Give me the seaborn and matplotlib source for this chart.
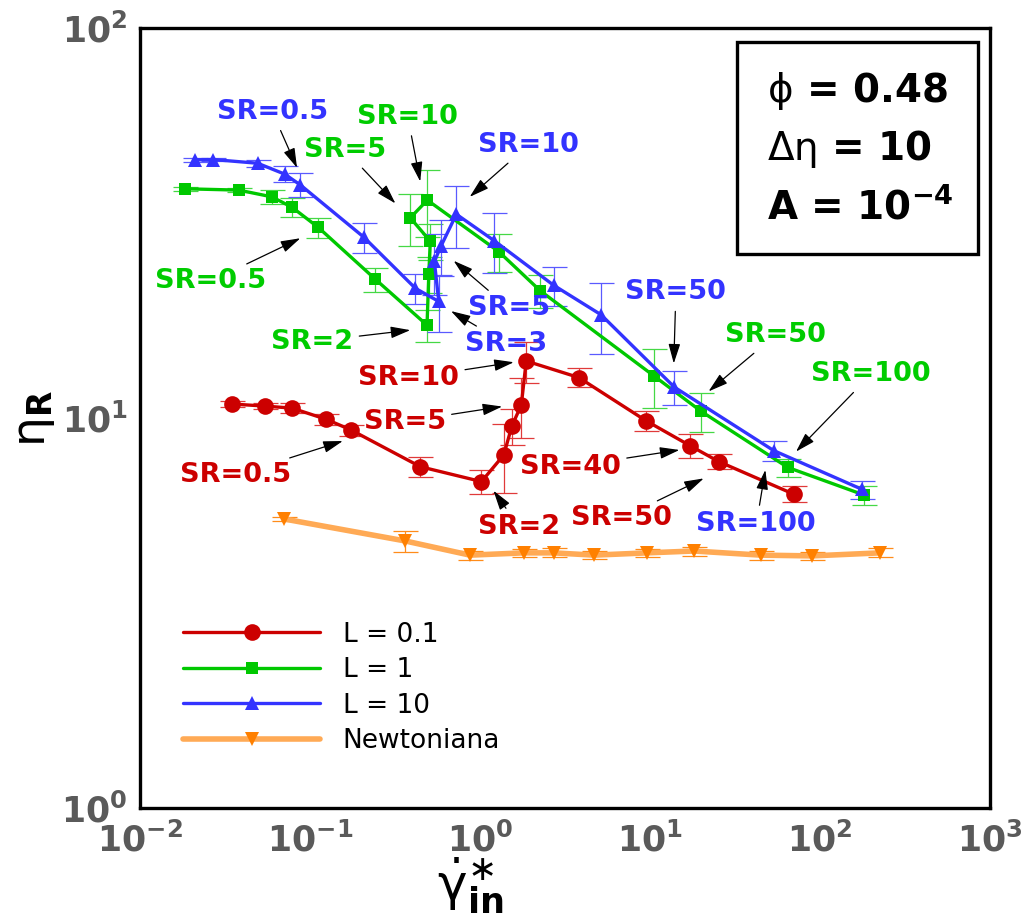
import numpy as np
import matplotlib
matplotlib.use("Agg")
import matplotlib.pyplot as plt
import seaborn as sns
from matplotlib.patches import Rectangle
from matplotlib.ticker import LogLocator, FuncFormatter, NullFormatter

# ---------------- data ----------------
red_x = [0.0348, 0.0542, 0.0784, 0.125, 0.175, 0.446, 1.02, 1.38, 1.54, 1.75, 1.87, 3.81, 9.47, 17.3, 25.4, 70.0]
red_y = [10.86, 10.73, 10.6, 9.92, 9.31, 7.50, 6.87, 8.04, 9.54, 10.8, 14.0, 12.7, 9.84, 8.48, 7.73, 6.38]
red_err = [0.2, 0.2, 0.3, 0.3, 0.3, 0.45, 0.5, 1.6, 1.0, 1.9, 1.7, 0.7, 0.6, 0.6, 0.35, 0.3]

green_x = [0.0185, 0.0381, 0.0597, 0.0784, 0.112, 0.242, 0.488, 0.50, 0.51, 0.389, 0.49, 1.29, 2.26, 10.6, 20.0, 64.6, 181.0]
green_y = [38.7, 38.4, 36.9, 34.7, 30.8, 22.7, 17.3, 23.4, 28.4, 32.6, 36.2, 26.7, 21.2, 12.8, 10.4, 7.47, 6.35]
green_err = [0.5, 0.5, 1.5, 2.0, 1.8, 1.6, 1.6, 2.5, 3.0, 5.0, 7.0, 3.0, 2.0, 2.2, 1.2, 0.4, 0.35]

blue_x = [0.0211, 0.0269, 0.0492, 0.071, 0.0877, 0.207, 0.417, 0.572, 0.539, 0.59, 0.726, 1.21, 2.71, 5.15, 13.9, 53.4, 177.0]
blue_y = [45.9, 46.0, 45.0, 42.2, 39.6, 29.1, 21.5, 19.9, 25.2, 27.6, 33.3, 28.5, 21.9, 18.4, 12.0, 8.25, 6.56]
blue_err = [0.5, 0.5, 1.0, 2.0, 2.8, 2.6, 1.9, 3.3, 4.5, 4.5, 6.0, 5.0, 2.5, 3.8, 1.2, 0.5, 0.35]

newt_x = [0.0703, 0.362, 0.873, 1.81, 2.72, 4.69, 9.6, 18.1, 45.0, 89.7, 225.0]
newt_y = [5.51, 4.84, 4.45, 4.51, 4.51, 4.45, 4.51, 4.56, 4.45, 4.43, 4.51]
newt_err = [0.08, 0.3, 0.12, 0.1, 0.12, 0.1, 0.1, 0.12, 0.12, 0.1, 0.12]

series_labels = ["L = 0.1", "L = 1", "L = 10", "Newtoniana"]

# annotations: (text, series, text position, arrow tip) in data coords
annotations = [
    ("SR=0.5", "blue", (0.060, 61.0), (0.0839, 43.8)),
    ("SR=10", "blue", (1.93, 50.1), (0.87, 36.9)),
    ("SR=5", "blue", (1.49, 19.1), (0.70, 25.3)),
    ("SR=3", "blue", (1.43, 15.5), (0.675, 18.8)),
    ("SR=50", "blue", (14.2, 21.0), (13.8, 13.8)),
    ("SR=100", "blue", (42.2, 5.34), (47.7, 7.36)),
    ("SR=10", "green", (0.376, 59.2), (0.445, 40.4)),
    ("SR=5", "green", (0.161, 48.7), (0.318, 35.5)),
    ("SR=0.5", "green", (0.0259, 22.4), (0.0877, 28.9)),
    ("SR=2", "green", (0.103, 15.7), (0.389, 16.8)),
    ("SR=50", "green", (54.6, 16.3), (22.1, 11.7)),
    ("SR=100", "green", (200.0, 12.95), (72.3, 8.2)),
    ("SR=0.5", "red", (0.0367, 7.14), (0.156, 8.73)),
    ("SR=10", "red", (0.380, 12.64), (1.58, 13.9)),
    ("SR=5", "red", (0.36, 9.79), (1.35, 10.7)),
    ("SR=2", "red", (1.70, 5.26), (1.20, 6.51)),
    ("SR=40", "red", (3.40, 7.5), (14.9, 8.28)),
    ("SR=50", "red", (6.77, 5.53), (20.7, 7.0)),
]

# ---------------- style ----------------
sns.set_style("white")
plt.rcParams["font.family"] = ["DejaVu Sans"]
plt.rcParams["mathtext.fontset"] = "dejavusans"
plt.rcParams["text.color"] = "black"
plt.rcParams["axes.labelcolor"] = "black"

RED, GREEN, BLUE = "#cc0000", "#00c800", "#3333ff"
ORANGE_M, ORANGE_L = "#ff8000", "#ffaa55"
ERR = {"red": "#e03a3a", "green": "#45d845", "blue": "#5a5aff", "orange": "#ff8c1a"}
TXT = {"red": RED, "green": "#00cc00", "blue": BLUE}

fig = plt.figure(figsize=(10.28, 9.18), dpi=100)
ax = fig.add_axes([140 / 1028, 110 / 918, 850 / 1028, 780 / 918])

# error bars
for xs, ys, es, c in [(red_x, red_y, red_err, ERR["red"]),
                      (green_x, green_y, green_err, ERR["green"]),
                      (blue_x, blue_y, blue_err, ERR["blue"]),
                      (newt_x, newt_y, newt_err, ERR["orange"])]:
    ax.errorbar(xs, ys, yerr=es, fmt="none", ecolor=c, elinewidth=0.9,
                capsize=9, capthick=0.9, zorder=1.5)

common = dict(sort=False, estimator=None, ax=ax, zorder=3)
sns.lineplot(x=newt_x, y=newt_y, color=ORANGE_L, lw=4.0, marker="v", ms=10,
             markerfacecolor=ORANGE_M, markeredgecolor=ORANGE_M, mew=0,
             label=series_labels[3], **common)
sns.lineplot(x=red_x, y=red_y, color=RED, lw=2.4, marker="o", ms=12,
             markeredgecolor=RED, mew=0, label=series_labels[0], **common)
sns.lineplot(x=green_x, y=green_y, color=GREEN, lw=2.4, marker="s", ms=8,
             markeredgecolor=GREEN, mew=0, label=series_labels[1], **common)
sns.lineplot(x=blue_x, y=blue_y, color=BLUE, lw=2.4, marker="^", ms=10,
             markeredgecolor=BLUE, mew=0, label=series_labels[2], **common)

ax.set_xscale("log")
ax.set_yscale("log")
ax.set_xlim(1e-2, 1e3)
ax.set_ylim(1, 100)

for sp in ax.spines.values():
    sp.set_linewidth(2.4)
    sp.set_color("black")

fmt = FuncFormatter(lambda v, p: r"$\mathbf{10^{%d}}$" % int(round(np.log10(v))))
for axis in (ax.xaxis, ax.yaxis):
    axis.set_major_locator(LogLocator(base=10, numticks=10))
    axis.set_minor_locator(LogLocator(base=10, subs=np.arange(2, 10), numticks=100))
    axis.set_major_formatter(fmt)
    axis.set_minor_formatter(NullFormatter())
ax.tick_params(which="major", direction="in", length=12, width=2.4,
               labelsize=25, labelcolor="#5a5a5a", top=False, right=False)
ax.tick_params(which="minor", direction="in", length=6, width=1.0,
               top=False, right=False)
ax.tick_params(axis="x", which="major", pad=10)
ax.tick_params(axis="y", which="major", pad=9)

ax.set_xlabel(r"$\dot{\mathrm{\gamma}}^{\ast}_{\mathbf{in}}$", fontsize=36)
ax.xaxis.set_label_coords(0.388, -0.06)
ax.set_ylabel(r"$\mathrm{\eta}_{\mathbf{R}}$", fontsize=34)
ax.yaxis.set_label_coords(-0.098, 0.5)

# legend
h, l = ax.get_legend_handles_labels()
hmap = dict(zip(l, h))
ax.legend([hmap[s] for s in series_labels], series_labels, loc="upper left",
          bbox_to_anchor=(0.0506, 0.239), frameon=False, fontsize=19,
          handlelength=5.2, handletextpad=0.85, labelspacing=0.36,
          borderpad=0, borderaxespad=0, numpoints=1)

# annotations
for text, s, xyt, xy in annotations:
    ax.annotate(text, xy=xy, xytext=xyt, xycoords="data", textcoords="data",
                ha="center", va="center", fontsize=19.5, fontweight="bold",
                color=TXT[s], zorder=5,
                arrowprops=dict(arrowstyle="-|>,head_length=0.6,head_width=0.18",
                                mutation_scale=20, color="black", lw=0.9,
                                shrinkA=2, shrinkB=0))

# info box
ax.add_patch(Rectangle((0.702, 0.710), 0.284, 0.272, transform=ax.transAxes,
                       fill=False, lw=2.4, ec="black", zorder=6))
info = [r"$\mathrm{\phi}$ = 0.48", r"$\mathrm{\Delta\eta}$ = 10", r"A = $\mathbf{10^{-4}}$"]
for t, yy in zip(info, [0.919, 0.845, 0.771]):
    ax.text(0.738, yy, t, transform=ax.transAxes, fontsize=28, fontweight="bold",
            ha="left", va="center", zorder=7)

fig.savefig("out.png", dpi=100)
